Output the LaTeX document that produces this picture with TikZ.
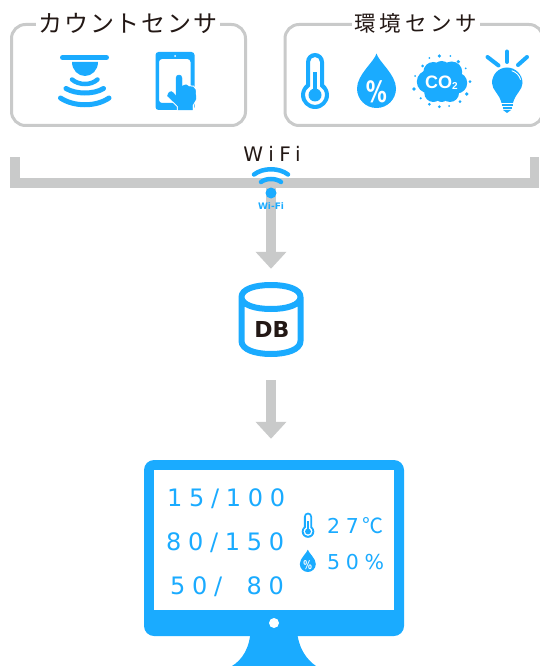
\documentclass[tikz,border=0pt]{standalone}
\usepackage{fontspec}
\usetikzlibrary{arrows.meta}
\newfontfamily\jpfont[LetterSpace=7]{Noto Sans CJK JP}
\newfontfamily\jpwide[LetterSpace=18]{Noto Sans CJK JP}
\newfontfamily\numfont[LetterSpace=28]{DejaVu Sans}
\newfontfamily\plainsans{DejaVu Sans}
\newfontfamily\arialsans{Liberation Sans}
\newcommand{\pxfont}[1]{\fontsize{#1}{#1}\selectfont}
\definecolor{skyblue}{HTML}{1AABFF}
\definecolor{linegray}{HTML}{C9CACA}
\definecolor{inkblack}{HTML}{231815}
\tikzset{
	sensorbox/.style={draw=linegray,line width=3pt,rounded corners=14pt,minimum height=101pt},
	boxtitle/.style={fill=white,text=inkblack,inner sep=3pt},
	flow/.style={draw=linegray,line width=10pt,-{Triangle[width=30pt,length=17pt]}},
	bus/.style={draw=linegray,line width=9.5pt},
	wave/.style={draw=skyblue,line width=5pt,line cap=round},
	bigcount/.style={text=skyblue,font=\numfont\pxfont{24}},
	smallcount/.style={text=skyblue,font=\numfont\pxfont{20.5}},
	thermo/.pic={
		\fill[skyblue,even odd rule] (-9,-33) .. controls (-9,-38) and (-5,-42) .. (0,-42) .. controls (5,-42) and (9,-38) .. (9,-33) -- (9,-10.7) .. controls (12,-8) and (14,-4) .. (14,0) .. controls (14,7.7) and (7.7,14) .. (0,14) .. controls (-7.7,14) and (-14,7.7) .. (-14,0) .. controls (-14,-4) and (-12,-8) .. (-9,-10.7) -- cycle
		(-5,-33) .. controls (-5,-35.8) and (-2.8,-38) .. (0,-38) .. controls (2.8,-38) and (5,-35.8) .. (5,-33) -- (5,-8.7) .. controls (8,-6.9) and (10,-3.7) .. (10,0) .. controls (10,5.5) and (5.5,10) .. (0,10) .. controls (-5.5,10) and (-10,5.5) .. (-10,0) .. controls (-10,-3.7) and (-8,-6.9) .. (-5,-8.7) -- cycle;
		\fill[skyblue] (0,0) circle [radius=6.5];
		\fill[skyblue] (-1.6,-23) rectangle (1.6,0);
	},
	dropicon/.pic={
		\fill[skyblue] (0,-35) .. controls (2,-27) and (19.5,-14) .. (19.5,0) .. controls (19.5,10.8) and (10.8,19.5) .. (0,19.5) .. controls (-10.8,19.5) and (-19.5,10.8) .. (-19.5,0) .. controls (-19.5,-14) and (-2,-27) .. (0,-35) -- cycle;
		\node[text=white,transform shape,inner sep=0pt,font=\plainsans\bfseries\pxfont{21},name=percent] at (0,3) {\scalebox{1}[1.4]{\%}};
	}
}
\begin{document}
\begin{tikzpicture}[x=1pt,y=-1pt]
	\useasboundingbox (0,0) rectangle (539,666);
	% sensor groups
	\node[sensorbox,minimum width=234pt,name=countbox] at (128.5,75) {};
	\node[sensorbox,minimum width=258pt,name=envbox] at (414,75) {};
	\node[boxtitle,font=\jpfont\pxfont{24},name=counttitle] at (128,23) {カウントセンサ};
	\node[boxtitle,font=\jpwide\pxfont{21.5},name=envtitle] at (416,23) {環境センサ};
	% count sensor
	\draw[skyblue,line width=5pt,line cap=round] (62.5,57.5) -- (106.5,57.5);
	\fill[skyblue] (72,62) .. controls (72,70) and (78,76) .. (85,76) .. controls (92,76) and (98,70) .. (98,62) -- cycle;
	\draw[wave,line width=4.5pt] (72,79.5) .. controls (79,85.5) and (91,85.5) .. (97.5,79.5);
	\draw[wave] (66,88.5) .. controls (76,94.5) and (94,94.5) .. (103.5,88.5);
	\draw[wave] (60.5,98) .. controls (74,107) and (96,107) .. (109,98);
	% tablet
	\fill[skyblue,rounded corners=3pt,even odd rule] (155.5,52) rectangle (194.5,110) (159,59) rectangle (190.5,103);
	\fill[white] (175,56) circle [radius=1];
	\filldraw[skyblue,preaction={draw=white,line width=2.5pt}] (176,78) .. controls (176,74) and (182,74) .. (182,78) -- (182,86.5) .. controls (185,84) and (188,84.5) .. (189,86.5) .. controls (192,86) and (195,87) .. (195.5,90) -- (196,99) -- (192.5,105) -- (192.5,110) -- (178,110) -- (178,106) -- (167.5,96) .. controls (168,92) and (171,90.5) .. (173,92.5) -- (176,96) -- cycle;
	% environment sensors
	\pic (thermobig) at (315,95) {thermo};
	\pic (dropbig) at (376.5,88.5) {dropicon};
	\foreach \cx/\cy/\cr in {428.3/81.7/11.5,433.3/72/10,451.7/72/10.5,456.7/83/10.5,450/93/9,433.3/93/9,441.7/82/15,441.7/95/7,441.7/70/9}
		\fill[skyblue] (\cx,\cy) circle [radius=\cr];
	\foreach \cx/\cy/\cr in {439.3/56/1.8,429.3/58/1,450.3/56/1,458.3/61.7/1.8,422.7/66/1.5,465.7/68.3/1,415/76/1,470/81.7/1.5,414/89/1.8,466.7/94/1.8,420.7/98.3/1.2,460/101.7/1.5,429.3/104.3/1.5,439.3/106.7/1.5,449/106/1}
		\fill[skyblue] (\cx,\cy) circle [radius=\cr];
	\node[text=white,inner sep=0pt,font=\arialsans\bfseries\pxfont{18},name=cotwo] at (441.5,83) {CO\raisebox{-1pt}{\pxfont{10}2}};
	% light bulb
	\draw[skyblue,line width=4pt,line cap=round] (507,51.5) -- (507,62);
	\draw[skyblue,line width=4pt,line cap=round] (487.5,57) -- (498.5,65.5);
	\draw[skyblue,line width=4pt,line cap=round] (527,57) -- (518,65);
	\fill[skyblue] (492,83) .. controls (492,74.5) and (498.5,67.5) .. (507,67.5) .. controls (515.5,67.5) and (522.5,74.5) .. (522.5,83) .. controls (522.5,90) and (515,94) .. (513,103) -- (501.5,103) .. controls (499.5,94) and (492,90) .. (492,83) -- cycle;
	\draw[white,line width=0.9pt,line cap=round] (512,70.8) .. controls (516,72) and (519.5,75.5) .. (520.5,79.5);
	\draw[skyblue,line width=2pt] (501.5,105.5) -- (512.5,105.5);
	\draw[skyblue,line width=2pt] (502.5,108.5) -- (511.5,108.5);
	\fill[skyblue] (503,110) -- (511,110) -- (507,113) -- cycle;
	% network
	\coordinate (busleft) at (15,157);
	\coordinate (busright) at (534.5,157);
	\coordinate (busmid) at (271,183);
	\node[text=inkblack,inner sep=0pt,font=\numfont\pxfont{20},name=wifilabel] at (272,154) {WiFi};
	\draw[bus] (busleft) |- (busmid) -| (busright);
	\node[minimum width=66pt,minimum height=75pt,inner sep=0pt,name=db] at (271,319.5) {};
	\node[minimum width=260pt,minimum height=176pt,inner sep=0pt,name=monitor] at (274,548) {};
	\draw[flow,shorten >=13pt] (busmid) -- (db.north);
	\draw[flow,shorten <=23pt,shorten >=21pt] (db.south) -- (db.south |- monitor.north);
	% wifi mark
	\draw[skyblue,line width=4.5pt,line cap=round] (254,174.5) .. controls (263,167.5) and (279,167.5) .. (288,174.5);
	\draw[skyblue,line width=4.5pt,line cap=round] (261,182) .. controls (266,178) and (276,178) .. (281,182);
	\fill[skyblue] (271,193) circle [radius=5.5];
	\node[text=skyblue,inner sep=0.5pt,font=\plainsans\bfseries\pxfont{9},name=wifimark] at (271,206) {Wi-Fi};
	% database
	\draw[skyblue,line width=6pt,line join=round] (241.5,297) .. controls (241.5,289) and (255,285) .. (271,285) .. controls (287,285) and (300.5,289) .. (300.5,297) .. controls (300.5,305) and (287,309) .. (271,309) .. controls (255,309) and (241.5,305) .. (241.5,297) -- (241.5,341) .. controls (241.5,349.5) and (255,354) .. (271,354) .. controls (287,354) and (300.5,349.5) .. (300.5,341) -- (300.5,297);
	\node[text=inkblack,inner sep=0pt,font=\plainsans\bfseries\pxfont{22},name=dblabel] at (272,329.5) {DB};
	% monitor
	\fill[skyblue] (250.5,630) -- (297,630) .. controls (298,648) and (307,660) .. (316,666) -- (232,666) .. controls (242,660) and (250,648) .. (250.5,630) -- cycle;
	\fill[skyblue,rounded corners=10pt] (144,460) rectangle (404,636);
	\fill[white] (154,470) rectangle (394,610);
	\fill[white] (274,623) circle [radius=5];
	\node[bigcount,inner sep=0pt,anchor=west,name=countone] at (167,498.5) {15/100};
	\node[bigcount,inner sep=0pt,anchor=west,name=counttwo] at (166,542.5) {80/150};
	\node[bigcount,inner sep=0pt,anchor=west,name=countthree] at (170,586.5) {50/\hspace{10pt} 80};
	\pic[scale=0.45,transform shape] (thermosmall) at (308,531.5) {thermo};
	\pic[scale=0.41,transform shape] (dropsmall) at (307.8,564) {dropicon};
	\node[smallcount,inner sep=0pt,anchor=west,name=temperature] at (327,526) {27\,{\jpfont\pxfont{21}℃}};
	\node[smallcount,inner sep=0pt,anchor=west,name=humidity] at (327,562) {50\%};
\end{tikzpicture}
\end{document}
